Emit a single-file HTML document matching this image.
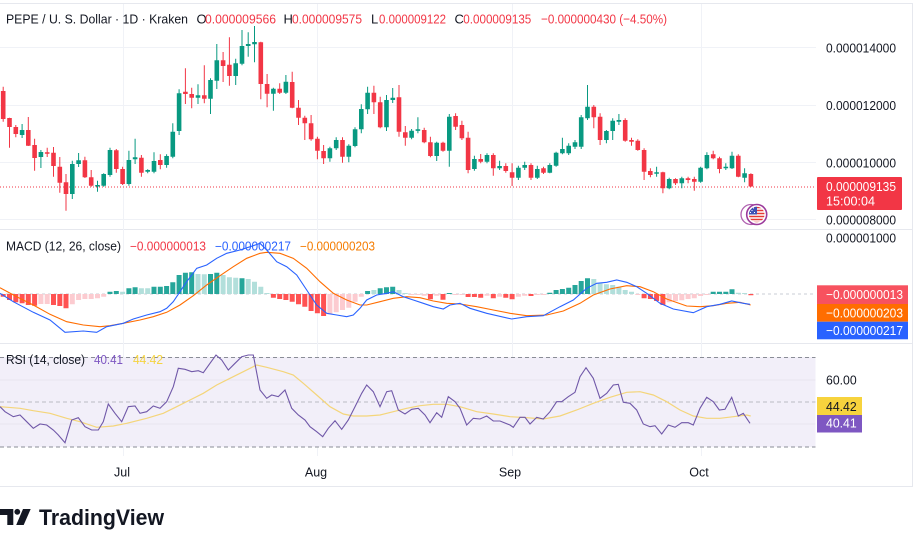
<!DOCTYPE html>
<html>
<head>
<meta charset="utf-8">
<style>
html,body{margin:0;padding:0;background:#fff;}
body{width:918px;height:548px;overflow:hidden;}
svg{display:block;font-family:"Liberation Sans",Arial,sans-serif;}
</style>
</head>
<body>
<svg width="918" height="548" viewBox="0 0 918 548" xmlns="http://www.w3.org/2000/svg">
<!-- outer borders -->
<g stroke="#e6e8ee" stroke-width="1" fill="none">
<path d="M0 3.5H912.5V486.5H0"/>
<path d="M0 229.5H912.5M0 343.5H912.5"/>
</g>
<!-- vertical grid -->
<g stroke="#f0f2f7" stroke-width="1">
<path d="M123.5 4V456M317.5 4V456M512.5 4V456M701.5 4V456"/>
<path d="M0 47.5H816M0 105.5H816M0 162.5H816M0 219.5H816"/>
</g>

<!-- ===== PRICE PANE ===== -->
<!-- current price dotted line -->
<path d="M0 187H816" stroke="#f23645" stroke-width="1" stroke-dasharray="1 2"/>

<!-- green wicks -->
<path stroke="#089981" stroke-width="1" fill="none" d="M22.1 124V138M40.9 150V168M72.3 160.7V199M78.6 153V167M97.5 180.7V191.7M103.7 173.3V186.7M110 147.7V176.7M128.9 150.7V185.7M135.1 138.7V164M147.7 169.3V173.3M154 152.3V173.3M166.6 154.3V167.7M172.8 123.3V158.3M179.1 89.3V135M198 84.3V104M210.5 78.3V114M216.8 44V89M235.7 58.7V85M242 30V65.3M248.2 32.3V56.7M254.5 26V62.3M273.4 87.7V110.7M285.9 75V94M329.9 146.7V161.7M336.2 137.3V150M348.8 144.3V162.3M355 127.3V147.3M361.3 104.3V133.3M367.6 86.7V114M386.5 95V131M392.7 88V103M411.6 129V139.3M417.9 117.3V133.3M436.7 141.7V161M449.3 114V166.7M474.4 155.7V170.7M487 153.3V163.3M499.6 160.7V170M518.4 165.7V180M524.7 161.7V170M537.3 165.7V179M549.8 163.3V173.3M556.1 151.7V166.7M562.4 137.7V154.3M568.7 143.3V155M575 140V149M581.2 115V149M587.5 85V120M606.4 130V143.3M612.7 118.3V140M618.9 114V125M656.6 166.7V176.7M669.2 177.7V189.3M681.8 176.7V188.3M700.6 166.7V182.7M706.9 152.3V169.3M725.8 163.3V170M732 151.7V169M744.6 168.3V182.3"/>
<!-- red wicks -->
<path stroke="#f23645" stroke-width="1" fill="none" d="M3.2 86.7V121.7M9.5 117.7V147.7M15.8 125V137.3M28.3 117V146M34.6 138.7V170.7M47.2 147.7V157M53.5 147V176.7M59.8 157V192.7M66 174V210.7M84.9 156.7V178M91.2 170V186.7M116.3 149V172.7M122.6 166.7V185M141.4 155V176.7M160.3 154.3V169.3M185.4 68.3V104M191.7 87.7V108.3M204.3 65.3V103.3M223.1 52V82M229.4 37.3V85.7M260.8 41.7V99.3M267.1 74V107.3M279.7 83.3V94M292.2 71.7V108.3M298.5 100V125M304.8 115.7V140M311.1 115V140.7M317.4 136.7V159.3M323.6 145V164M342.5 137.3V162.7M373.9 85.7V114M380.2 96.7V128.3M399 85V136.7M405.3 126V145.7M424.2 127.7V143.3M430.4 136.7V157.3M443 141.7V151.7M455.6 113.3V130M461.9 120.7V140M468.1 131.7V173.3M480.7 154V163.3M493.3 153.3V175.7M505.8 163.3V172.7M512.1 163.3V186M531 163.3V180M543.5 166.7V174M593.8 105V128.3M600.1 113.3V145M625.2 118.3V141.7M631.5 137.7V145.7M637.8 139.3V150.7M644.1 148.3V180M650.4 168.3V177.3M662.9 171.7V193.3M675.5 178.3V185M688.1 176.7V183.3M694.3 176.7V190.7M713.2 150.7V159.3M719.5 156.7V173.3M738.3 154.3V177.3M750.9 173.3V186.7"/>
<!-- green bodies -->
<path fill="#089981" d="M19.8 130h4.6V135h-4.6zM38.6 152h4.6V157h-4.6zM70 164h4.6V194h-4.6zM76.3 160.3h4.6V164h-4.6zM95.2 185h4.6V186.5h-4.6zM101.4 174h4.6V185.7h-4.6zM107.7 150h4.6V175h-4.6zM126.6 160h4.6V184h-4.6zM132.8 157.3h4.6V159.3h-4.6zM145.4 170h4.6V171.7h-4.6zM151.7 161h4.6V171.7h-4.6zM164.3 156h4.6V165h-4.6zM170.5 131.7h4.6V156.7h-4.6zM176.8 93.3h4.6V131h-4.6zM195.7 95.3h4.6V97.7h-4.6zM208.2 80h4.6V98.7h-4.6zM214.5 60.3h4.6V80.7h-4.6zM233.4 63.3h4.6V76h-4.6zM239.7 46h4.6V63.7h-4.6zM245.9 44h4.6V46h-4.6zM252.2 42h4.6V44.3h-4.6zM271.1 88.7h4.6V93.7h-4.6zM283.6 81.7h4.6V92.7h-4.6zM327.6 148.3h4.6V158.3h-4.6zM333.9 140h4.6V148.3h-4.6zM346.5 145.7h4.6V156.7h-4.6zM352.8 129.3h4.6V146h-4.6zM359 109h4.6V129.3h-4.6zM365.3 92.7h4.6V109.3h-4.6zM384.2 100h4.6V127.3h-4.6zM390.5 97.7h4.6V100h-4.6zM409.3 130.7h4.6V137.7h-4.6zM415.6 129.3h4.6V130.9h-4.6zM434.4 142.7h4.6V156h-4.6zM447 116.7h4.6V150.7h-4.6zM472.1 159h4.6V169h-4.6zM484.7 155h4.6V161.7h-4.6zM497.3 166h4.6V168.3h-4.6zM516.1 167.7h4.6V177.7h-4.6zM522.4 165h4.6V167.7h-4.6zM535 169h4.6V177.7h-4.6zM547.5 165h4.6V172.7h-4.6zM553.8 152.7h4.6V165.7h-4.6zM560.1 149h4.6V153.3h-4.6zM566.4 145.7h4.6V153.3h-4.6zM572.7 142.3h4.6V146.7h-4.6zM578.9 117.3h4.6V146.7h-4.6zM585.2 106.7h4.6V118.3h-4.6zM604.1 131h4.6V140h-4.6zM610.4 120.7h4.6V131h-4.6zM616.6 120h4.6V121.7h-4.6zM654.3 172.3h4.6V173.8h-4.6zM666.9 179h4.6V188.3h-4.6zM679.5 178.3h4.6V183.3h-4.6zM698.3 167.7h4.6V181.7h-4.6zM704.6 155h4.6V168.3h-4.6zM723.5 166.7h4.6V168.3h-4.6zM729.7 155.7h4.6V168.3h-4.6zM742.3 173.3h4.6V177.7h-4.6z"/>
<!-- red bodies -->
<path fill="#f23645" d="M0.9 91h4.6V119h-4.6zM7.2 118h4.6V127h-4.6zM13.5 127h4.6V134h-4.6zM26 130h4.6V145.7h-4.6zM32.3 145h4.6V158h-4.6zM44.9 152.3h4.6V153.8h-4.6zM51.2 152.7h4.6V166h-4.6zM57.5 166.7h4.6V182.7h-4.6zM63.7 182.3h4.6V194h-4.6zM82.6 160.3h4.6V177.3h-4.6zM88.9 177.3h4.6V185.7h-4.6zM114 150.3h4.6V169h-4.6zM120.3 169h4.6V184h-4.6zM139.1 157.7h4.6V172.7h-4.6zM158 160h4.6V165h-4.6zM183.1 91.7h4.6V94h-4.6zM189.4 94h4.6V97.7h-4.6zM202 95.3h4.6V98.7h-4.6zM220.8 60.3h4.6V66h-4.6zM227.1 64.7h4.6V76h-4.6zM258.5 42.3h4.6V84h-4.6zM264.8 84h4.6V93.7h-4.6zM277.4 88.7h4.6V92.7h-4.6zM289.9 82h4.6V107.7h-4.6zM296.2 107.7h4.6V117.7h-4.6zM302.5 117.7h4.6V123.3h-4.6zM308.8 123.3h4.6V139.3h-4.6zM315.1 138.7h4.6V150.7h-4.6zM321.3 151h4.6V158.3h-4.6zM340.2 140h4.6V156.7h-4.6zM371.6 92.7h4.6V102.3h-4.6zM377.9 102.3h4.6V127.3h-4.6zM396.7 97.3h4.6V131.7h-4.6zM403 132.3h4.6V137.7h-4.6zM421.9 130h4.6V142.3h-4.6zM428.1 142.3h4.6V156h-4.6zM440.7 142.7h4.6V150.7h-4.6zM453.3 116h4.6V126.7h-4.6zM459.6 125h4.6V138.3h-4.6zM465.8 137.7h4.6V170h-4.6zM478.4 159h4.6V161.7h-4.6zM491 155h4.6V168.3h-4.6zM503.5 166h4.6V171h-4.6zM509.8 172.3h4.6V177.7h-4.6zM528.7 165h4.6V177.7h-4.6zM541.2 168.3h4.6V172.7h-4.6zM591.5 106.7h4.6V117.3h-4.6zM597.8 116.7h4.6V140h-4.6zM622.9 120h4.6V140.7h-4.6zM629.2 140h4.6V141.7h-4.6zM635.5 140.7h4.6V150h-4.6zM641.8 150h4.6V171.7h-4.6zM648 171h4.6V175h-4.6zM660.6 172.3h4.6V188.3h-4.6zM673.2 179h4.6V183.3h-4.6zM685.7 178.3h4.6V180h-4.6zM692 179h4.6V181.7h-4.6zM710.9 154.3h4.6V158.3h-4.6zM717.2 158.3h4.6V169h-4.6zM736 155.7h4.6V176.7h-4.6zM748.6 174h4.6V186.5h-4.6z"/>

<!-- flag icon -->
<circle cx="751" cy="214.5" r="10" fill="none" stroke="#b061b0" stroke-width="1.3"/>
<circle cx="756.7" cy="214.5" r="10" fill="#fff" stroke="#9c3a9c" stroke-width="1.6"/>
<clipPath id="fc"><circle cx="756.7" cy="214.5" r="7.8"/></clipPath>
<g clip-path="url(#fc)">
<rect x="748" y="206" width="18" height="18" fill="#fff"/>
<path d="M748 207.5h18M748 210.5h18M748 213.5h18M748 216.5h18M748 219.5h18M748 222.5h18" stroke="#e53935" stroke-width="1.6"/>
<rect x="748" y="206" width="9" height="8.5" fill="#3f51b5"/>
<path d="M750 208h1M753 208h1M751.5 210.5h1M750 212.5h1M754 212.5h1" stroke="#fff" stroke-width="1"/>
</g>

<!-- header -->
<g font-size="13" fill="#131722">
<text x="6" y="23.3" textLength="182" lengthAdjust="spacingAndGlyphs">PEPE / U. S. Dollar · 1D · Kraken</text>
<text x="196.5" y="23.3">O</text>
<text x="205" y="23.3" fill="#f23645" textLength="71" lengthAdjust="spacingAndGlyphs">0.000009566</text>
<text x="283.5" y="23.3">H</text>
<text x="292" y="23.3" fill="#f23645" textLength="70" lengthAdjust="spacingAndGlyphs">0.000009575</text>
<text x="371" y="23.3">L</text>
<text x="379" y="23.3" fill="#f23645" textLength="67" lengthAdjust="spacingAndGlyphs">0.000009122</text>
<text x="454.5" y="23.3">C</text>
<text x="463.3" y="23.3" fill="#f23645" textLength="68" lengthAdjust="spacingAndGlyphs">0.000009135</text>
<text x="541" y="23.3" fill="#f23645" textLength="126" lengthAdjust="spacingAndGlyphs">−0.000000430 (−4.50%)</text>
</g>

<!-- price axis labels -->
<g font-size="13" fill="#131722">
<text x="826" y="52.3" textLength="70" lengthAdjust="spacingAndGlyphs">0.000014000</text>
<text x="826" y="110" textLength="70" lengthAdjust="spacingAndGlyphs">0.000012000</text>
<text x="826" y="167.3" textLength="70" lengthAdjust="spacingAndGlyphs">0.000010000</text>
<text x="826" y="224.3" textLength="70" lengthAdjust="spacingAndGlyphs">0.000008000</text>
<text x="826" y="242.3" textLength="70" lengthAdjust="spacingAndGlyphs">0.000001000</text>
</g>
<rect x="817" y="177" width="85" height="33" rx="1" fill="#f23645"/>
<g font-size="13" fill="#fff">
<text x="826" y="191" textLength="70" lengthAdjust="spacingAndGlyphs">0.000009135</text>
<text x="826" y="205.7" textLength="49" lengthAdjust="spacingAndGlyphs">15:00:04</text>
</g>

<!-- ===== MACD PANE ===== -->
<path d="M0 294H816" stroke="#c9ccd4" stroke-width="1" stroke-dasharray="3 3"/>
<!-- histogram dark red -->
<path fill="#ff5252" d="M0.7 294h5v2.7h-5zM7 294h5v6h-5zM13.3 294h5v8.3h-5zM19.6 294h5v9.3h-5zM25.8 294h5v11h-5zM32.1 294h5v11.7h-5zM51 294h5v11h-5zM57.3 294h5v12h-5zM63.5 294h5v14.3h-5zM270.9 294h5v3.7h-5zM277.2 294h5v5h-5zM283.4 294h5v6h-5zM289.7 294h5v7.7h-5zM296 294h5v10.3h-5zM302.3 294h5v12.7h-5zM308.6 294h5v17h-5zM314.9 294h5v19.3h-5zM321.1 294h5v22h-5zM427.9 294h5v5.3h-5zM440.5 294h5v5.7h-5zM465.6 294h5v3h-5zM471.9 294h5v3h-5zM478.2 294h5v3.7h-5zM490.8 294h5v4.3h-5zM503.3 294h5v3.7h-5zM509.6 294h5v5.3h-5zM528.5 294h5v2h-5zM641.6 294h5v4.3h-5zM647.9 294h5v5h-5zM654.1 294h5v7h-5zM660.4 294h5v11h-5zM748.4 294h5v1.2h-5z"/>
<!-- histogram light red -->
<path fill="#fccbd0" d="M38.4 294h5v10h-5zM44.7 294h5v10h-5zM69.8 294h5v10.3h-5zM76.1 294h5v6h-5zM82.4 294h5v5h-5zM88.7 294h5v5h-5zM95 294h5v4.3h-5zM101.2 294h5v2.7h-5zM327.4 294h5v20.3h-5zM333.7 294h5v18.3h-5zM340 294h5v16h-5zM346.3 294h5v13.7h-5zM352.6 294h5v7.7h-5zM358.8 294h5v2.7h-5zM409.1 294h5v1h-5zM415.4 294h5v1h-5zM421.7 294h5v1.7h-5zM434.2 294h5v1.7h-5zM453.1 294h5v1h-5zM459.4 294h5v1h-5zM484.5 294h5v1.7h-5zM497.1 294h5v2.7h-5zM515.9 294h5v2.7h-5zM522.2 294h5v1.7h-5zM534.8 294h5v1h-5zM541 294h5v1h-5zM635.3 294h5v1h-5zM666.7 294h5v8.3h-5zM673 294h5v7h-5zM679.3 294h5v6.3h-5zM685.6 294h5v5h-5zM691.8 294h5v4.3h-5zM698.1 294h5v2h-5zM704.4 294h5v1h-5z"/>
<!-- histogram dark green -->
<path fill="#26a69a" d="M107.5 291.7h5V294h-5zM113.8 291h5V294h-5zM126.4 288.3h5V294h-5zM132.6 287.3h5V294h-5zM151.5 286.7h5V294h-5zM157.8 286.7h5V294h-5zM164.1 286h5V294h-5zM170.3 282.3h5V294h-5zM176.6 275h5V294h-5zM182.9 272.7h5V294h-5zM189.2 272.3h5V294h-5zM208 274h5V294h-5zM214.3 272.7h5V294h-5zM239.5 278.3h5V294h-5zM365.1 291h5V294h-5zM377.7 288.3h5V294h-5zM384 287.3h5V294h-5zM390.2 286.7h5V294h-5zM446.8 293h5V294h-5zM547.3 292.7h5V294h-5zM553.6 290h5V294h-5zM559.9 289h5V294h-5zM566.2 287.7h5V294h-5zM572.5 285h5V294h-5zM578.7 281h5V294h-5zM585 278.3h5V294h-5zM710.7 291.7h5V294h-5zM717 291.7h5V294h-5zM723.3 291.7h5V294h-5zM729.5 289.3h5V294h-5z"/>
<!-- histogram light green -->
<path fill="#b2dfdb" d="M120.1 291.7h5V294h-5zM138.9 288.3h5V294h-5zM145.2 288.3h5V294h-5zM195.5 274h5V294h-5zM201.8 274.3h5V294h-5zM220.6 275h5V294h-5zM226.9 277.3h5V294h-5zM233.2 277.7h5V294h-5zM245.7 279h5V294h-5zM252 281.7h5V294h-5zM258.3 286.7h5V294h-5zM264.6 293h5V294h-5zM371.4 290h5V294h-5zM396.5 290h5V294h-5zM402.8 293h5V294h-5zM591.3 279h5V294h-5zM597.6 283.3h5V294h-5zM603.9 284.3h5V294h-5zM610.2 285h5V294h-5zM616.4 286.7h5V294h-5zM622.7 290h5V294h-5zM629 291.7h5V294h-5zM735.8 292.7h5V294h-5zM742.1 293h5V294h-5z"/>
<!-- signal (orange) -->
<polyline fill="none" stroke="#ff6d00" stroke-width="1.1" points="0,287.7 16.7,296.7 33.3,305 50,314.3 66.7,321.7 83.3,325 100,326.7 110,325.7 123.3,323.3 140,320 153.3,316.7 166.7,312.3 180,305 193.3,295.7 206.7,285 220,275.7 233.3,266.7 246.7,258.3 260,253.3 266.7,252.3 280,253.3 293.3,258.3 306.7,268.3 320,281.7 333.3,293.3 346.7,300 360,305 366.7,305 380,301.7 393.3,298.3 406.7,296.7 420,297.7 433.3,301 446.7,303.3 460,304 476.7,306.7 493.3,310 510,313.3 526.7,315.7 546.7,315 563.3,311 580,303.3 593.3,295 610,289 626.7,285.7 640,286.7 653.3,291.7 666.7,299 686.7,306 700,306.7 713.3,305.7 726.7,303.3 740,302.3 750.7,305"/>
<!-- macd (blue) -->
<polyline fill="none" stroke="#2962ff" stroke-width="1.1" points="0,293.3 13.3,301.7 33.3,312.3 50,320 65,332.3 83.3,331 96.7,332.3 106.7,326.7 123.3,323.3 133.3,319 146.7,315 160,311.7 166.7,308.3 173.3,301.7 180,291.7 186.7,281.7 196.7,268.3 206.7,265 216.7,258.3 226.7,253.3 240,250 253.3,245.7 260,243.3 266.7,250 276.7,261.7 286.7,266.7 296.7,275 306.7,290 316.7,305 326.7,313.3 336.7,315 346.7,316.7 353.3,315 360,308.3 366.7,300 376.7,295 386.7,293.3 393.3,291.7 403.3,296.7 413.3,300 423.3,303.3 433.3,306.7 443.3,309 450,305 460,303.3 470,308.3 486.7,313.3 511.7,319 526.7,316.7 543.3,315.7 560,306.7 573.3,300 586.7,288.3 596.7,283.3 606.7,282.3 616.7,280 626.7,282.3 636.7,286.7 646.7,293.3 660,303.3 673.3,309 693.3,312.7 706.7,306.7 720,304.3 731.7,301 743.3,303.3 750,304.3"/>
<!-- MACD legend -->
<g font-size="12.5">
<text x="6" y="250.7" fill="#131722" textLength="115" lengthAdjust="spacingAndGlyphs">MACD (12, 26, close)</text>
<text x="130" y="250.7" fill="#f23645" textLength="76" lengthAdjust="spacingAndGlyphs">−0.000000013</text>
<text x="215" y="250.7" fill="#2962ff" textLength="76" lengthAdjust="spacingAndGlyphs">−0.000000217</text>
<text x="300" y="250.7" fill="#f57c00" textLength="75" lengthAdjust="spacingAndGlyphs">−0.000000203</text>
</g>
<!-- MACD axis boxes -->
<rect x="817" y="285.3" width="91" height="18.7" fill="#f7525f"/>
<rect x="817" y="304" width="91" height="17.7" fill="#ff6d00"/>
<rect x="817" y="321.7" width="91" height="17.6" fill="#2962ff"/>
<g font-size="13" fill="#fff">
<text x="826" y="299" textLength="77" lengthAdjust="spacingAndGlyphs">−0.000000013</text>
<text x="826" y="317.3" textLength="77" lengthAdjust="spacingAndGlyphs">−0.000000203</text>
<text x="826" y="335" textLength="77" lengthAdjust="spacingAndGlyphs">−0.000000217</text>
</g>

<!-- ===== RSI PANE ===== -->
<rect x="0" y="357" width="815.5" height="90" fill="#f2eff9"/>
<path d="M0 380H815.5M0 424H815.5" stroke="#e8e5f0" stroke-width="1"/>
<path d="M0 357.5H815.5M0 447H815.5" stroke="#8a8d96" stroke-width="1" stroke-dasharray="4 3"/>
<path d="M0 402H815.5" stroke="#b9bbc4" stroke-width="1" stroke-dasharray="4 3"/>
<polyline fill="none" stroke="#f4d57a" stroke-width="1.2" points="0,406.7 20,408.3 33.3,410.7 50,413.3 66.7,418.3 80,421.7 96.7,427.3 113.3,426 126.7,423.3 146.7,418.3 163.3,413.3 176.7,406.7 190,400 203.3,393.3 216.7,385 230,378.3 243.3,371.7 256.7,365 266.7,367.3 283.3,371.7 293.3,375 303.3,383.3 316.7,395 330,406.7 343.3,414 353.3,416 366.7,416 380,415 393.3,411.7 406.7,408.3 420,405.7 433.3,404.3 446.7,404.3 460,406.7 476.7,411.7 493.3,414 510,416.7 526.7,417.7 543.3,419 560,416 576.7,410 593.3,403.3 610,397.3 626.7,392.3 640,391.7 653.3,395 666.7,401.7 680,410 693.3,416 706.7,418.3 720,418.3 733.3,416.7 746.7,415 750.7,416"/>
<polyline fill="none" stroke="#7058a8" stroke-width="1.1" points="0,406.7 5,411.7 13.3,416.7 20,415 26.7,421.7 33.3,428.3 40,424 46.7,425 53.3,430 58.3,435 65,442.7 71.7,420 78.3,417.7 85,426.7 91.7,430 98.3,430 103.3,421.7 108.3,404 115,413.3 121.7,421.7 128.3,406.7 135,406 140,413.3 146.7,411.7 153.3,406 160,408.3 166.7,401.7 173.3,386.7 178.3,368.3 185,369.3 191.7,371.7 198.3,370.7 203.3,372.7 210,363.3 216,355 221.7,360 228.3,370 235,363.3 241.7,356.7 248.3,355 253.3,355 260,390 266.7,398.3 271.7,395 278.3,396.7 285,390 291.7,408.3 298.3,415 305,420 310,426.7 316.7,431.7 322.7,436.7 328.3,428.3 335,420.7 341.7,429.3 348.3,420 355,406.7 361.7,393.3 366.7,385 373.3,391.7 380,406.7 386.7,391.7 391.7,390.7 398.3,410 405,414 411.7,409.3 418.3,408.3 425,415 430,422.7 436.7,412.7 441.7,417.3 448.3,396.7 455,401.7 460,408.3 466.7,425 473.3,418.3 480,419 486.7,416 493.3,421 500,421 510,425 513.3,427.3 520,417.3 525,417.3 530,424 536.7,417.3 543.3,419 550,411.7 556.7,401.7 561.7,401.7 568.3,396.7 575,392.3 580,376.7 586,367.7 593.3,378.3 600,398.3 606.7,393.3 613.3,385 618.3,384.3 623.3,402.3 630,403.3 636.7,410 643.3,424 650,426.7 655,425.7 661.7,434 668.3,425 675,427.3 681.7,422.7 688.3,422.7 693.3,425 700,408.3 706.7,397.3 713.3,401.7 719.3,410 725,409.3 731.7,397.3 738.3,416 743.3,413.3 750,423.3"/>
<!-- RSI legend -->
<g font-size="12.5">
<text x="6" y="364" fill="#131722" textLength="79" lengthAdjust="spacingAndGlyphs">RSI (14, close)</text>
<text x="94" y="364" fill="#7e57c2" textLength="29" lengthAdjust="spacingAndGlyphs">40.41</text>
<text x="133" y="364" fill="#f5d442" textLength="30" lengthAdjust="spacingAndGlyphs">44.42</text>
</g>
<!-- RSI axis -->
<text x="826" y="384.3" font-size="13" fill="#131722" textLength="30.7" lengthAdjust="spacingAndGlyphs">60.00</text>
<rect x="817" y="397" width="45" height="18" fill="#f7d33d"/>
<rect x="817" y="415" width="45" height="17.5" fill="#7e57c2"/>
<text x="826" y="411" font-size="13" fill="#131722" textLength="30.7" lengthAdjust="spacingAndGlyphs">44.42</text>
<text x="826" y="427.3" font-size="13" fill="#fff" textLength="30.7" lengthAdjust="spacingAndGlyphs">40.41</text>

<!-- time axis -->
<g font-size="12.5" fill="#131722" text-anchor="middle">
<text x="122" y="476.5">Jul</text>
<text x="316" y="476.5">Aug</text>
<text x="510" y="476.5">Sep</text>
<text x="699" y="476.5">Oct</text>
</g>

<!-- TradingView logo -->
<g fill="#131722">
<path d="M0 509h13.3v16h-6v-10h-7.3z"/>
<circle cx="17.3" cy="511.8" r="2.9"/>
<path d="M23 509h7.7l-7 16h-7.5z"/>
<text x="39" y="525" font-size="22" font-weight="bold" textLength="125" lengthAdjust="spacingAndGlyphs">TradingView</text>
</g>
</svg>
</body>
</html>
